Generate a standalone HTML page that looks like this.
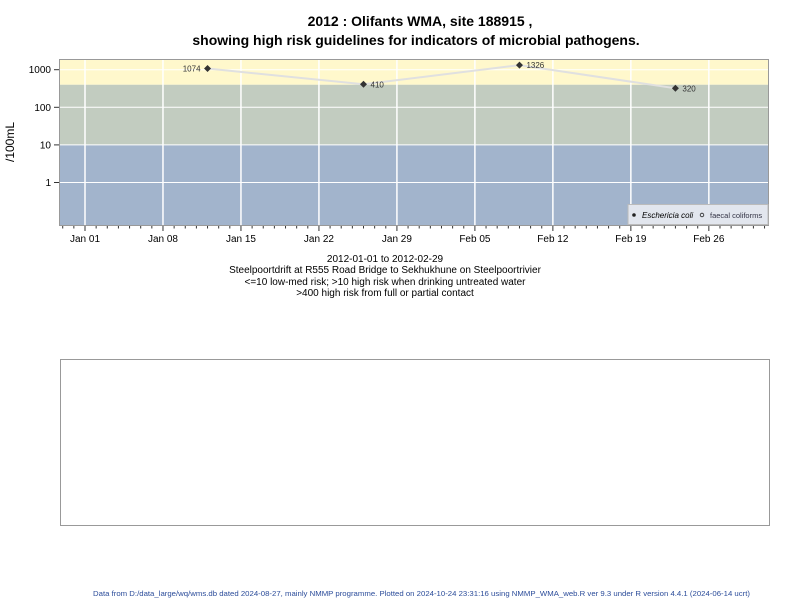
<!DOCTYPE html>
<html><head><meta charset="utf-8"><style>
body{margin:0;background:#fff;width:800px;height:600px;overflow:hidden;font-family:"Liberation Sans",Arial,sans-serif}
svg text{font-family:"Liberation Sans",Arial,sans-serif}
</style></head><body>
<svg width="800" height="600" xmlns="http://www.w3.org/2000/svg">
<text x="420" y="26" text-anchor="middle" font-size="14" font-weight="bold">2012 : Olifants WMA, site 188915 ,</text>
<text x="416" y="45" text-anchor="middle" font-size="14" font-weight="bold">showing high risk guidelines for indicators of microbial pathogens.</text>
<g id="plot"></g>
<text x="14" y="142" font-size="12" transform="rotate(-90 14 142)" text-anchor="middle">/100mL</text>
<g font-size="10" text-anchor="middle">
<text x="385" y="262">2012-01-01 to 2012-02-29</text>
<text x="385" y="273">Steelpoortdrift at R555 Road Bridge to Sekhukhune on Steelpoortrivier</text>
<text x="385" y="285">&lt;=10 low-med risk; &gt;10 high risk when drinking untreated water</text>
<text x="385" y="296">&gt;400 high risk from full or partial contact</text>
</g>
<rect x="60.5" y="359.5" width="709" height="166" fill="none" stroke="#999"/>
<text x="93" y="596" font-size="7.5" fill="#2b4c9a" textLength="657" lengthAdjust="spacingAndGlyphs">Data from D:/data_large/wq/wms.db dated 2024-08-27, mainly NMMP programme. Plotted on 2024-10-24 23:31:16 using NMMP_WMA_web.R ver 9.3 under R version 4.4.1 (2024-06-14 ucrt)</text>
</svg>
<script>
const dates=["2012-01-12","2012-01-26","2012-02-09","2012-02-23"];
const ecoli=[1074,410,1326,320];
const yTicks=[1,10,100,1000];
const xTickLabels=["Jan 01","Jan 08","Jan 15","Jan 22","Jan 29","Feb 05","Feb 12","Feb 19","Feb 26"];
const bands=[{lo:-10,hi:10,c:"#a2b4cc"},{lo:10,hi:400,c:"#c2ccc0"},{lo:400,hi:1e6,c:"#fff8cc"}];
const L=59,R=769,T=59,B=226;
const day0=Date.UTC(2012,0,1);
function dayOf(s){const p=s.split("-");return (Date.UTC(+p[0],p[1]-1,+p[2])-day0)/864e5;}
function X(d){return 85+d*11.14;}
function Y(v){return 182.5-Math.log10(v)*37.6;}
function Yc(v){return Math.max(T,Math.min(B,v<=0?B:Y(v)));}
const NS="http://www.w3.org/2000/svg";
const g=document.getElementById("plot");
function mk(t,a,p){const e=document.createElementNS(NS,t);for(const k in a)e.setAttribute(k,a[k]);(p||g).appendChild(e);return e;}
bands.forEach(b=>{const y1=Yc(b.hi),y2=b.lo<=0?B:Yc(b.lo);
const r=mk("rect",{x:L,y:y1,width:R-L,height:y2-y1,fill:b.c});

});
yTicks.forEach(v=>{const y=Y(v);
const l=mk("line",{x1:L,x2:R,y1:y,y2:y,stroke:"#fff","stroke-width":1});


mk("line",{x1:L-5,x2:L,y1:y,y2:y,stroke:"#333"});
const t=mk("text",{x:L-8,y:y+3.5,"text-anchor":"end","font-size":"10"});t.textContent=v;

});
xTickLabels.forEach((s,i)=>{const x=X(i*7);
const l=mk("line",{x1:x,x2:x,y1:T,y2:B,stroke:"#fff","stroke-width":1.5});


mk("line",{x1:x,x2:x,y1:B,y2:B+5,stroke:"#333"});
const t=mk("text",{x:x,y:B+16,"text-anchor":"middle","font-size":"10"});t.textContent=s;

});
for(let d=-2;d<=61;d++){if(d%7===0)continue;const x=X(d);mk("line",{x1:x,x2:x,y1:B,y2:B+2.5,stroke:"#333"});}
mk("rect",{x:L+0.5,y:T+0.5,width:R-L-1,height:B-T-1,fill:"none",stroke:"#999"});
const pts=dates.map((d,i)=>[X(dayOf(d)),Y(ecoli[i])]);
const ln=mk("polyline",{points:pts.map(p=>p.join(",")).join(" "),fill:"none",stroke:"#e0e0e0","stroke-width":2});


pts.forEach((p,i)=>{const c=mk("path",{d:`M${p[0]} ${p[1]-3.5}L${p[0]+3.5} ${p[1]}L${p[0]} ${p[1]+3.5}L${p[0]-3.5} ${p[1]}Z`,fill:"#333"});


const left=i===0;
const t=mk("text",{x:left?p[0]-7:p[0]+7,y:p[1]+3,"text-anchor":left?"end":"start","font-size":"8",fill:"#333"});t.textContent=ecoli[i];

});
const lg=mk("g",{});


mk("rect",{x:628,y:204.5,width:140,height:20,fill:"#e2e6ee",stroke:"#bbb"},lg);
mk("circle",{cx:634,cy:215,r:1.8,fill:"#222"},lg);
const t1=mk("text",{x:642,y:218,"font-size":"8","font-style":"italic"},lg);t1.textContent="Eschericia coli";


mk("circle",{cx:702,cy:215,r:1.8,fill:"none",stroke:"#222","stroke-width":0.8},lg);
const t2=mk("text",{x:710,y:218,"font-size":"7.5",fill:"#334"},lg);t2.textContent="faecal coliforms";


</script>
</body></html>
